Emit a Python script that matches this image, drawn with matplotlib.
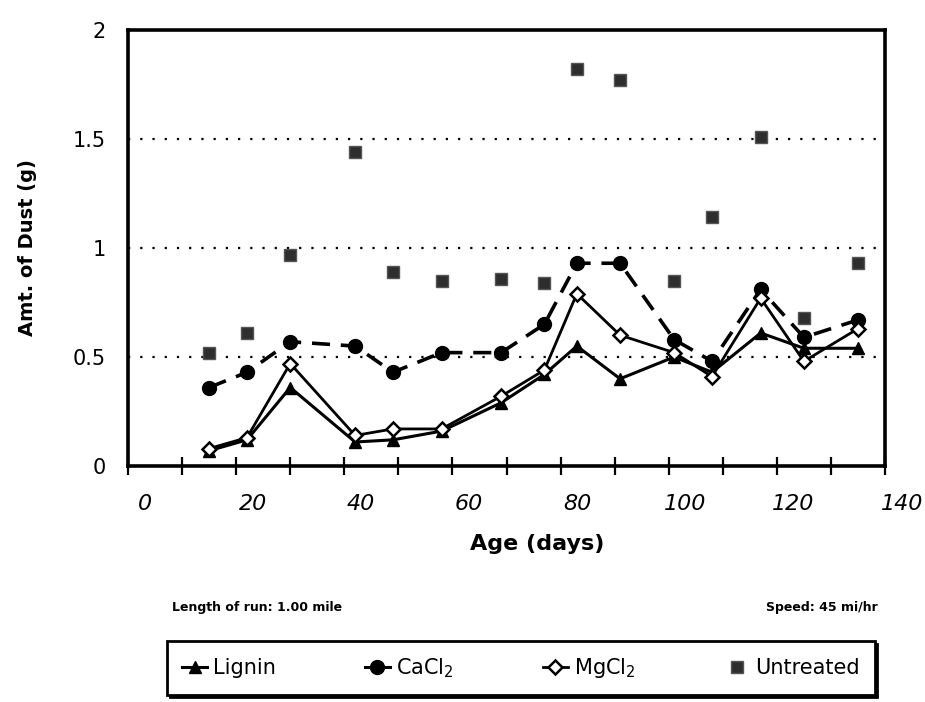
import matplotlib
matplotlib.use("Agg")
import matplotlib.pyplot as plt
import matplotlib.transforms as mtransforms
from matplotlib.lines import Line2D

# data
age_days = [15, 22, 30, 42, 49, 58, 69, 77, 83, 91, 101, 108, 117, 125, 135]
lignin = [0.07, 0.12, 0.36, 0.11, 0.12, 0.16, 0.29, 0.42, 0.55, 0.40, 0.50, 0.43, 0.61, 0.54, 0.54]
cacl2 = [0.36, 0.43, 0.57, 0.55, 0.43, 0.52, 0.52, 0.65, 0.93, 0.93, 0.58, 0.48, 0.81, 0.59, 0.67]
mgcl2 = [0.08, 0.13, 0.47, 0.14, 0.17, 0.17, 0.32, 0.44, 0.79, 0.60, 0.52, 0.41, 0.77, 0.48, 0.63]
untreated = [0.52, 0.61, 0.97, 1.44, 0.89, 0.85, 0.86, 0.84, 1.82, 1.77, 0.85, 1.14, 1.51, 0.68, 0.93]

x_ticks = [0, 20, 40, 60, 80, 100, 120, 140]
x_minor = [10, 30, 50, 70, 90, 110, 130]
y_ticks = [0, 0.5, 1, 1.5, 2]
y_ticklabels = ["0", "0.5", "1", "1.5", "2"]
ref_lines = [0.5, 1.0, 1.5]

fig = plt.figure(figsize=(9.25, 7.02), dpi=100)
ax = fig.add_axes([0.1384, 0.3362, 0.8184, 0.6211])

for y in ref_lines:
    ax.axhline(y, color="k", lw=1.6, linestyle=(0, (1, 4.5)), zorder=1)

ax.plot(age_days, lignin, color="k", lw=2.2, marker="^", ms=8, zorder=3)
ax.plot(age_days, cacl2, color="k", lw=2.6, linestyle=(0, (5, 3)),
        marker="o", ms=10, zorder=3)
ax.plot(age_days, mgcl2, color="k", lw=2.0, marker="D", ms=7,
        mfc="white", mec="k", mew=1.8, zorder=4)
ax.plot(age_days, untreated, linestyle="none", marker="s", ms=8,
        mfc="#2e2e2e", mec="#555555", mew=1, zorder=3)

ax.set_xlim(0, 140)
ax.set_ylim(0, 2)
ax.set_xticks(x_ticks)
ax.set_xticks(x_minor, minor=True)
ax.set_yticks(y_ticks)
ax.set_yticklabels(y_ticklabels)

for side in ax.spines.values():
    side.set_linewidth(2.6)

ax.tick_params(axis="x", which="both", direction="inout", length=13,
               width=1.6, pad=14, labelsize=16)
ax.tick_params(axis="y", length=0, pad=16, labelsize=15)
for lab in ax.get_xticklabels():
    lab.set_fontstyle("italic")
    lab.set_transform(lab.get_transform() +
                      mtransforms.ScaledTranslation(12 / 72, 0, fig.dpi_scale_trans))

ax.set_xlabel("Age (days)", fontsize=16, fontweight="bold")
ax.xaxis.set_label_coords(0.54, -0.155)
ax.set_ylabel("Amt. of Dust (g)", fontsize=14, fontweight="bold", labelpad=26)

fig.text(172 / 925, 1 - 607 / 702, "Length of run: 1.00 mile",
         fontsize=9, fontweight="bold", va="center", ha="left")
fig.text(878 / 925, 1 - 607 / 702, "Speed: 45 mi/hr",
         fontsize=9, fontweight="bold", va="center", ha="right")

handles = [
    Line2D([], [], color="k", lw=2.2, marker="^", ms=9),
    Line2D([], [], color="k", lw=2.2, marker="o", ms=10),
    Line2D([], [], color="k", lw=2.0, marker="D", ms=7, mfc="white", mew=1.8),
    Line2D([], [], linestyle="none", marker="s", ms=8, mfc="#2e2e2e", mec="#555555"),
]
labels = ["Lignin", "CaCl$_2$", "MgCl$_2$", "Untreated"]
leg = fig.legend(handles, labels, loc="center", ncol=4, mode="expand",
                 bbox_to_anchor=(157 / 925, 4 / 702, 728 / 925, 60 / 702),
                 fontsize=15, handlelength=1.2, handletextpad=0.3,
                 fancybox=False, edgecolor="k", framealpha=1,
                 shadow={"color": "k", "alpha": 1}, borderpad=0.7)
leg.get_frame().set_linewidth(2)

fig.savefig("out.png", dpi=100)
